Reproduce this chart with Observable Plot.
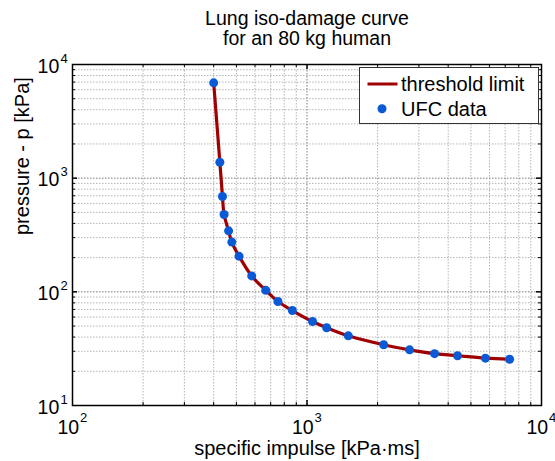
<!DOCTYPE html>
<html>
<head>
<meta charset="utf-8">
<script src="https://cdn.jsdelivr.net/npm/d3@7"></script>
<script src="https://cdn.jsdelivr.net/npm/@observablehq/plot@0.6"></script>
<style>
  body { margin: 0; background: #fff; }
  #chart { position: relative; width: 555px; height: 461px; font-family: "Liberation Sans", Arial, sans-serif; }
  #chart svg { display: block; }
  #legend { position: absolute; left: 0; top: 0; pointer-events: none; }
</style>
</head>
<body>
<div id="chart"></div>
<script>
// Chart text
const titleLines = ["Lung iso-damage curve", "for an 80 kg human"];
const xLabel = "specific impulse [kPa·ms]";
const yLabel = "pressure - p [kPa]";
const legendLabels = ["threshold limit", "UFC data"];

// UFC data: specific impulse (kPa·ms) and pressure (kPa) along the lung threshold
const impulse = [400, 425, 436, 443, 463, 478, 513, 581, 667, 752, 866, 1056, 1213, 1500, 2123, 2738, 3498, 4385, 5766, 7311];
const pressure = [6900, 1381, 690, 479, 344, 274, 206, 138, 103, 82.2, 68.5, 54.8, 48.3, 41.0, 34.2, 30.9, 28.6, 27.4, 26.1, 25.5];

// Decade tick positions and their exponents
const xDecades = [100, 1000, 10000];
const yDecades = [10, 100, 1000, 10000];

const data = impulse.map((x, i) => ({x, y: pressure[i]}));
const exp10 = d => String(Math.round(Math.log10(d)));
const minorOf = decades => decades.slice(0, -1).flatMap(d => d3.range(2, 10).map(k => k * d));
const xMinor = minorOf(xDecades);
const yMinor = minorOf(yDecades);
const xInner = xDecades.slice(1, -1);
const yInner = yDecades.slice(1, -1);

const W = 555, H = 461;
const mL = 72, mR = 14, mT = 64, mB = 56;
const frameW = W - mL - mR, frameH = H - mT - mB;
const lineColor = "#a10000";
const dotColor = "#0a5ad6";
const fs = 20, fsTick = 19.5, fsExp = 13;

const plot = Plot.plot({
  width: W,
  height: H,
  marginLeft: mL,
  marginRight: mR,
  marginTop: mT,
  marginBottom: mB,
  style: {fontFamily: "'Liberation Sans', Arial, sans-serif", fontSize: "20px", background: "#fff", overflow: "visible", color: "#000"},
  x: {type: "log", domain: [xDecades[0], xDecades[xDecades.length - 1]], axis: null},
  y: {type: "log", domain: [yDecades[0], yDecades[yDecades.length - 1]], axis: null},
  marks: [
    // dotted grid
    Plot.ruleX(xMinor, {x: d => d, stroke: "#b4b4b4", strokeDasharray: "1.5 1.5"}),
    Plot.ruleY(yMinor, {y: d => d, stroke: "#b4b4b4", strokeDasharray: "1.5 1.5"}),
    Plot.ruleX(xInner, {x: d => d, stroke: "#7a7a7a", strokeDasharray: "1.5 1.5"}),
    Plot.ruleY(yInner, {y: d => d, stroke: "#7a7a7a", strokeDasharray: "1.5 1.5"}),
    // threshold curve and data points
    Plot.line(data, {x: "x", y: "y", stroke: lineColor, strokeWidth: 3.2, curve: "catmull-rom"}),
    Plot.dot(data, {x: "x", y: "y", r: 4.5, fill: dotColor, stroke: null}),
    // inward ticks on all four sides
    Plot.ruleX(xMinor, {x: d => d, insetTop: frameH - 3, stroke: "#000"}),
    Plot.ruleX(xMinor, {x: d => d, insetBottom: frameH - 3, stroke: "#000"}),
    Plot.ruleY(yMinor, {y: d => d, insetRight: frameW - 3, stroke: "#000"}),
    Plot.ruleY(yMinor, {y: d => d, insetLeft: frameW - 3, stroke: "#000"}),
    Plot.ruleX(xInner, {x: d => d, insetTop: frameH - 5, stroke: "#000", strokeWidth: 1.5}),
    Plot.ruleX(xInner, {x: d => d, insetBottom: frameH - 5, stroke: "#000", strokeWidth: 1.5}),
    Plot.ruleY(yInner, {y: d => d, insetRight: frameW - 5, stroke: "#000", strokeWidth: 1.5}),
    Plot.ruleY(yInner, {y: d => d, insetLeft: frameW - 5, stroke: "#000", strokeWidth: 1.5}),
    Plot.frame({stroke: "#000", strokeWidth: 1.5}),
    // x tick labels: 10 with superscript exponent
    Plot.text(xDecades, {x: d => d, text: () => "10", frameAnchor: "bottom", textAnchor: "end", lineAnchor: "middle", dx: 6.6, dy: 22, fontSize: fsTick, fill: "#000"}),
    Plot.text(xDecades, {x: d => d, text: exp10, frameAnchor: "bottom", textAnchor: "start", lineAnchor: "middle", dx: 7.6, dy: 12.5, fontSize: fsExp, fill: "#000"}),
    // y tick labels
    Plot.text(yDecades, {y: d => d, text: () => "10", frameAnchor: "left", textAnchor: "end", lineAnchor: "middle", dx: -13.2, dy: 1.8, fontSize: fsTick, fill: "#000"}),
    Plot.text(yDecades, {y: d => d, text: exp10, frameAnchor: "left", textAnchor: "start", lineAnchor: "middle", dx: -12, dy: -6, fontSize: fsExp, fill: "#000"}),
    // axis labels
    Plot.text([xLabel], {text: d => d, frameAnchor: "bottom", lineAnchor: "middle", dy: 43, fontSize: fs, fill: "#000"}),
    Plot.text([yLabel], {text: d => d, frameAnchor: "left", rotate: -90, lineAnchor: "middle", dx: -49.6, fontSize: fs, fill: "#000"}),
    // two-line title
    Plot.text([titleLines[0]], {text: d => d, frameAnchor: "top", lineAnchor: "middle", dy: -45.5, fontSize: 19.5, fill: "#000"}),
    Plot.text([titleLines[1]], {text: d => d, frameAnchor: "top", lineAnchor: "middle", dy: -25.5, fontSize: 19.5, fill: "#000"})
  ]
});

const chart = document.getElementById("chart");
chart.appendChild(plot);

// legend box in the upper-right corner of the frame
const lg = d3.select(chart).append("svg")
  .attr("id", "legend")
  .attr("width", W).attr("height", H)
  .style("font-family", "'Liberation Sans', Arial, sans-serif")
  .style("font-size", fs + "px");
const bx = 359.5, by = 67.5, bw = 179, bh = 56;
lg.append("rect").attr("x", bx).attr("y", by).attr("width", bw).attr("height", bh)
  .attr("fill", "#fff").attr("stroke", "#333").attr("stroke-width", 1);
lg.append("line").attr("x1", bx + 8).attr("x2", bx + 38).attr("y1", by + 16.5).attr("y2", by + 16.5)
  .attr("stroke", lineColor).attr("stroke-width", 3);
lg.append("text").attr("x", bx + 41.5).attr("y", by + 23.2).text(legendLabels[0]);
lg.append("circle").attr("cx", bx + 22.5).attr("cy", by + 41.2).attr("r", 4.5).attr("fill", dotColor);
lg.append("text").attr("x", bx + 41.5).attr("y", by + 48.2).text(legendLabels[1]);
</script>
</body>
</html>
